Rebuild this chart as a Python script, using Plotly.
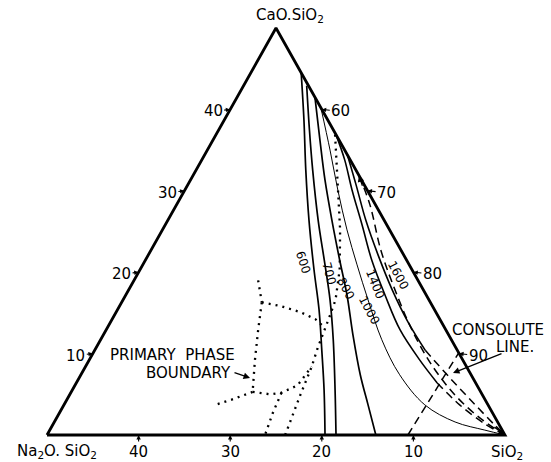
import plotly.graph_objects as go

# Na2O-CaO-SiO2 section between Na2O.SiO2, CaO.SiO2 and SiO2 (mol %)
# Every composition is given as (CaO mol %, Na2O mol %); SiO2 is the balance.

# corner compositions
corner_na2o = [50.0, 0.0, 0.0]
corner_cao = [0.0, 50.0, 0.0]

# solid iso-lines, labelled by value
iso_labels = ["600", "700", "800", "1000", "1400", "1600"]
iso_cao = [
    [44.5, 38.7, 32.6, 26.4, 20.3, 15.4, 10.4, 5.5, 0.0],
    [42.9, 37.5, 32.6, 26.4, 20.9, 16.6, 11.7, 5.5, 0.0],
    [41.5, 36.2, 31.3, 26.4, 21.5, 17.2, 12.3, 7.4, 3.7, 0.0],
    [40.2, 35.0, 30.1, 25.2, 20.9, 16.6, 11.7, 7.4, 3.7, 1.6, 0.6, 0.0],
    [36.9, 33.8, 30.1, 25.8, 21.5, 17.2, 12.9, 9.2, 6.4],
    [34.4, 30.7, 26.4, 22.1, 17.8, 13.9, 10.4],
]
iso_na2o = [
    [0.0, 2.6, 5.45, 8.2, 10.7, 12.6, 14.8, 17.0, 19.65],
    [0.2, 2.6, 4.7, 7.2, 9.2, 10.8, 12.9, 15.8, 18.45],
    [0.0, 2.1, 4.0, 5.7, 7.3, 8.65, 10.45, 12.1, 13.1, 14.1],
    [0.0, 1.6, 3.2, 4.65, 5.7, 6.65, 7.6, 7.8, 6.9, 4.65, 1.9, 0.0],
    [0.0, 0.6, 1.65, 2.7, 3.8, 4.5, 5.0, 4.7, 4.2],
    [0.0, 0.9, 2.0, 2.8, 3.4, 3.65, 3.5],
]

# dashed continuations towards SiO2
ext_cao = [
    [6.4, 3.7, 1.35, 0.0],
    [10.4, 7.0, 3.7, 1.2, 0.0],
    [31.9, 28.3, 22.7, 17.8, 12.9, 8.6, 4.9, 2.1, 0.0],
]
ext_na2o = [
    [4.2, 3.1, 1.5, 0.0],
    [3.5, 2.5, 1.4, 0.5, 0.0],
    [0.0, 0.6, 2.2, 3.1, 3.7, 3.7, 3.0, 1.7, 0.0],
]

# consolute line
consolute_cao = [0.0, 10.1]
consolute_na2o = [10.6, 0.0]

# primary phase boundaries (dotted)
phase_cao = [
    [19.0, 16.3],
    [16.3, 15.85, 15.1, 14.25, 13.4],
    [16.3, 12.9, 9.2, 5.3],
    [5.3, 4.4, 3.7],
    [5.3, 5.0, 5.2, 6.1, 8.4],
    [5.2, 2.7, 0.0],
    [36.9, 31.3, 25.2, 20.3, 16.6, 14.4, 13.1, 10.7, 8.4, 4.9, 0.0],
]
phase_na2o = [
    [17.45, 18.4],
    [18.4, 16.6, 14.8, 13.6, 13.2],
    [18.4, 20.5, 22.7, 24.9],
    [24.9, 27.5, 29.8],
    [24.9, 23.1, 21.8, 19.6, 16.9],
    [21.8, 24.0, 26.2],
    [0.1, 2.6, 5.4, 7.9, 10.2, 12.0, 13.1, 15.1, 16.9, 19.9, 24.0],
]

# edge scales (mol %)
cao_ticks = [10, 20, 30, 40]
sio2_ticks = [60, 70, 80, 90]
na2o_ticks = [40, 30, 20, 10]


def to_xy(cao, na2o):
    """Project mol % CaO / Na2O onto the plane of the triangle."""
    xs = [100 - 2 * n - c for c, n in zip(cao, na2o)]
    ys = [2 * c for c in cao]
    return xs, ys


fig = go.Figure()

# triangle outline
tx, ty = to_xy(corner_cao + corner_cao[:1], corner_na2o + corner_na2o[:1])
fig.add_trace(go.Scatter(x=tx, y=ty, mode="lines",
                         line=dict(color="black", width=2.8)))

line_widths = [1.7, 1.7, 1.7, 1.0, 1.6, 1.6]
for cs, ns, w in zip(iso_cao, iso_na2o, line_widths):
    x, y = to_xy(cs, ns)
    fig.add_trace(go.Scatter(x=x, y=y, mode="lines", line_shape="spline",
                             line=dict(color="black", width=w)))

for cs, ns in zip(ext_cao, ext_na2o):
    x, y = to_xy(cs, ns)
    fig.add_trace(go.Scatter(x=x, y=y, mode="lines", line_shape="spline",
                             line=dict(color="black", width=1.5, dash="8px,5px")))

x, y = to_xy(consolute_cao, consolute_na2o)
fig.add_trace(go.Scatter(x=x, y=y, mode="lines",
                         line=dict(color="black", width=1.5, dash="8px,5px")))

for cs, ns in zip(phase_cao, phase_na2o):
    x, y = to_xy(cs, ns)
    fig.add_trace(go.Scatter(x=x, y=y, mode="lines",
                             line=dict(color="black", width=2.3, dash="2px,5px")))

font = dict(family="DejaVu Sans", size=15, color="black")
arrow = dict(showarrow=True, arrowhead=2, arrowsize=0.8, arrowwidth=1.1,
             arrowcolor="black")
ann = []

# tick labels with small arrows pointing at the edges
for v in cao_ticks:
    x, y = to_xy([v], [50 - v])
    ann.append(dict(x=x[0], y=y[0], text=str(v), ax=-17, ay=2, font=font, **arrow))
for v in sio2_ticks:
    x, y = to_xy([100 - v], [0])
    ann.append(dict(x=x[0], y=y[0], text=str(v), ax=19, ay=2, font=font, **arrow))
for v in na2o_ticks:
    x, y = to_xy([0], [v])
    ann.append(dict(x=x[0], y=y[0], text=str(v), ax=0, ay=17, font=font, **arrow))

# arrowheads where the dashed line leaves the edge and where the lines meet SiO2
x, y = to_xy(ext_cao[2][:1], ext_na2o[2][:1])
ann.append(dict(x=x[0], y=y[0], ax=4, ay=12, text="", showarrow=True,
                arrowhead=2, arrowsize=1, arrowwidth=1.3, arrowcolor="black"))
cx, cy = to_xy(corner_cao, corner_na2o)
ann.append(dict(x=cx[2], y=cy[2], ax=-12, ay=-9, text="", showarrow=True,
                arrowhead=2, arrowsize=1, arrowwidth=1.3, arrowcolor="black"))

# corner names
ann.append(dict(x=cx[1], y=cy[1], text="CaO.SiO<sub>2</sub>", showarrow=False,
                xshift=14, yshift=13, font=font))
ann.append(dict(x=cx[0], y=cy[0], text="Na<sub>2</sub>O. SiO<sub>2</sub>",
                showarrow=False, xshift=10, yshift=-16, font=font))
ann.append(dict(x=cx[2], y=cy[2], text="SiO<sub>2</sub>", showarrow=False,
                xshift=2, yshift=-17, font=font))


def paper(px, py):
    return dict(x=px / 551, y=1 - py / 462, xref="paper", yref="paper",
                xanchor="center", yanchor="middle")


# iso-line labels, written along the curves
small = dict(family="DejaVu Sans", size=12, color="black")
label_pos = [(303, 262, 72), (329, 273, 75), (346, 289, 62),
             (369, 310, 62), (375, 284, 68), (398, 275, 62)]
for txt, (px, py, ang) in zip(iso_labels, label_pos):
    ann.append(dict(**paper(px, py), text=txt, showarrow=False,
                    textangle=ang, font=small))

big = dict(font, size=15)
ann.append(dict(**paper(172, 355), text="PRIMARY  PHASE", showarrow=False, font=big))
ann.append(dict(**paper(188, 373), text="BOUNDARY", showarrow=False, font=big))
ann.append(dict(**paper(250, 378), ax=-17, ay=-6, text="", showarrow=True,
                arrowhead=2, arrowsize=1, arrowwidth=1.3, arrowcolor="black"))

ann.append(dict(**paper(498, 330), text="CONSOLUTE", showarrow=False, font=big))
ann.append(dict(**paper(515, 347), text="LINE.", showarrow=False, font=big))
ann.append(dict(**paper(453, 373), ax=50, ay=-20, text="", showarrow=True,
                arrowhead=2, arrowsize=1, arrowwidth=1.3, arrowcolor="black"))

fig.update_layout(
    width=551, height=462,
    margin=dict(l=0, r=0, t=0, b=0),
    paper_bgcolor="white", plot_bgcolor="white",
    showlegend=False,
    annotations=ann,
    xaxis=dict(range=[-47 / 4.58, 504 / 4.58], visible=False, fixedrange=True),
    yaxis=dict(range=[-27 / 4.07, 435 / 4.07], visible=False, fixedrange=True),
)

fig.write_html("out.html")
